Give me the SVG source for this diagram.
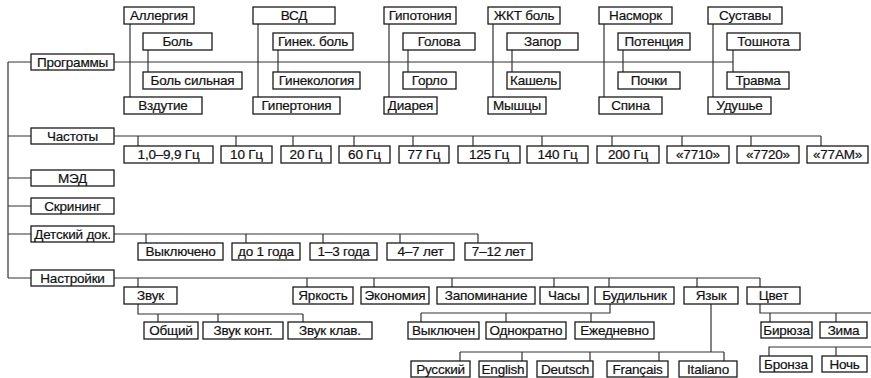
<svg xmlns="http://www.w3.org/2000/svg" width="871" height="378" viewBox="0 0 871 378">
<style>
rect{fill:#fff;stroke:#1a1a1a;stroke-width:1.3}
text{font-family:"Liberation Sans",Arial,sans-serif;font-size:13.5px;letter-spacing:-0.2px;text-anchor:middle;fill:#111;stroke:#111;stroke-width:0.2}
.c path{stroke:#333;stroke-width:1.2;fill:none}
</style>
<rect x="0" y="0" width="871" height="378" style="fill:#fff;stroke:none"/>
<g class="c" id="connectors">
<path d="M8 62V278M8 62H31M8 136H31M8 178H31M8 206H31M8 234H31M8 278H31"/>
<path d="M114 62H733"/>
<path d="M130 24V97M148 50V72M258 24V97M278 50V72M389 24V97M408 50V72M493 24V97M512 50V72M604 24V97M623 50V72M713 24V97M733 50V72"/>
<path d="M114 136H821M138 136V146M236 136V146M293 136V146M354 136V146M413 136V146M473 136V146M542 136V146M612 136V146M682 136V146M751 136V146M821 136V146"/>
<path d="M114 234H478M146 234V243M246 234V243M323 234V243M400 234V243M478 234V243"/>
<path d="M114 278H760M138 278V287M307 278V287M374 278V287M452 278V287M554 278V287M609 278V287M697 278V287M760 278V287"/>
<path d="M138 304V314H303M158 314V322M218 314V322M303 314V322"/>
<path d="M610 304V313H421M421 313V322M506 313V322M591 313V322"/>
<path d="M711 304V352M460 352H724M460 352V361M522 352V361M590 352V361M659 352V361M724 352V361"/>
<path d="M760 304V313H871M770 313V322M836 313V322"/>
<path d="M769 356V347H871M836 347V356"/>
</g>
<g id="n-programmy"><rect x="31" y="54" width="83" height="16"/><text x="72.5" y="66.8">Программы</text></g>
<g id="n-allergiya"><rect x="124" y="7" width="70" height="17"/><text x="159" y="20.3">Аллергия</text></g>
<g id="n-bol"><rect x="143" y="33" width="69" height="17"/><text x="177.5" y="46.3">Боль</text></g>
<g id="n-bol-silnaya"><rect x="143" y="72" width="99" height="17"/><text x="192.5" y="85.3">Боль сильная</text></g>
<g id="n-vzdutie"><rect x="124" y="97" width="78" height="17"/><text x="163" y="110.3">Вздутие</text></g>
<g id="n-vsd"><rect x="253" y="7" width="82" height="17"/><text x="294" y="20.3">ВСД</text></g>
<g id="n-ginek-bol"><rect x="273" y="33" width="80" height="17"/><text x="313" y="46.3">Гинек. боль</text></g>
<g id="n-ginekologiya"><rect x="273" y="72" width="87" height="17"/><text x="316.5" y="85.3">Гинекология</text></g>
<g id="n-gipertoniya"><rect x="253" y="97" width="87" height="17"/><text x="296.5" y="110.3">Гипертония</text></g>
<g id="n-gipotoniya"><rect x="384" y="7" width="72" height="17"/><text x="420" y="20.3">Гипотония</text></g>
<g id="n-golova"><rect x="403" y="33" width="72" height="17"/><text x="439" y="46.3">Голова</text></g>
<g id="n-gorlo"><rect x="403" y="72" width="53" height="17"/><text x="429.5" y="85.3">Горло</text></g>
<g id="n-diareya"><rect x="384" y="97" width="53" height="17"/><text x="410.5" y="110.3">Диарея</text></g>
<g id="n-zhkt"><rect x="488" y="7" width="72" height="17"/><text x="524" y="20.3">ЖКТ боль</text></g>
<g id="n-zapor"><rect x="507" y="33" width="71" height="17"/><text x="542.5" y="46.3">Запор</text></g>
<g id="n-kashel"><rect x="507" y="72" width="53" height="17"/><text x="533.5" y="85.3">Кашель</text></g>
<g id="n-myshtsy"><rect x="488" y="97" width="58" height="17"/><text x="517" y="110.3">Мышцы</text></g>
<g id="n-nasmork"><rect x="599" y="7" width="73" height="17"/><text x="635.5" y="20.3">Насморк</text></g>
<g id="n-potentsiya"><rect x="618" y="33" width="72" height="17"/><text x="654" y="46.3">Потенция</text></g>
<g id="n-pochki"><rect x="618" y="72" width="62" height="17"/><text x="649" y="85.3">Почки</text></g>
<g id="n-spina"><rect x="599" y="97" width="63" height="17"/><text x="630.5" y="110.3">Спина</text></g>
<g id="n-sustavy"><rect x="708" y="7" width="74" height="17"/><text x="745" y="20.3">Суставы</text></g>
<g id="n-toshnota"><rect x="727" y="33" width="73" height="17"/><text x="763.5" y="46.3">Тошнота</text></g>
<g id="n-travma"><rect x="727" y="72" width="62" height="17"/><text x="758" y="85.3">Травма</text></g>
<g id="n-udushye"><rect x="708" y="97" width="63" height="17"/><text x="739.5" y="110.3">Удушье</text></g>
<g id="n-chastoty"><rect x="31" y="128" width="83" height="16"/><text x="72.5" y="140.8">Частоты</text></g>
<g id="n-f1"><rect x="124" y="146" width="89" height="17"/><text x="168.5" y="159.3">1,0–9,9 Гц</text></g>
<g id="n-f10"><rect x="221" y="146" width="51" height="17"/><text x="246.5" y="159.3">10 Гц</text></g>
<g id="n-f20"><rect x="281" y="146" width="50" height="17"/><text x="306" y="159.3">20 Гц</text></g>
<g id="n-f60"><rect x="339" y="146" width="51" height="17"/><text x="364.5" y="159.3">60 Гц</text></g>
<g id="n-f77"><rect x="399" y="146" width="50" height="17"/><text x="424" y="159.3">77 Гц</text></g>
<g id="n-f125"><rect x="458" y="146" width="62" height="17"/><text x="489" y="159.3">125 Гц</text></g>
<g id="n-f140"><rect x="527" y="146" width="61" height="17"/><text x="557.5" y="159.3">140 Гц</text></g>
<g id="n-f200"><rect x="597" y="146" width="62" height="17"/><text x="628" y="159.3">200 Гц</text></g>
<g id="n-f7710"><rect x="667" y="146" width="62" height="17"/><text x="698" y="159.3">«7710»</text></g>
<g id="n-f7720"><rect x="737" y="146" width="62" height="17"/><text x="768" y="159.3">«7720»</text></g>
<g id="n-f77am"><rect x="807" y="146" width="61" height="17"/><text x="837.5" y="159.3">«77AM»</text></g>
<g id="n-med"><rect x="31" y="170" width="83" height="16"/><text x="72.5" y="182.8">МЭД</text></g>
<g id="n-skrining"><rect x="31" y="198" width="83" height="16"/><text x="72.5" y="210.8">Скрининг</text></g>
<g id="n-detskiy"><rect x="31" y="226" width="83" height="16"/><text x="72.5" y="238.8">Детский док.</text></g>
<g id="n-d-off"><rect x="138" y="243" width="85" height="17"/><text x="180.5" y="256.3">Выключено</text></g>
<g id="n-d1"><rect x="232" y="243" width="68" height="17"/><text x="266" y="256.3">до 1 года</text></g>
<g id="n-d13"><rect x="310" y="243" width="67" height="17"/><text x="343.5" y="256.3">1–3 года</text></g>
<g id="n-d47"><rect x="387" y="243" width="67" height="17"/><text x="420.5" y="256.3">4–7 лет</text></g>
<g id="n-d712"><rect x="465" y="243" width="67" height="17"/><text x="498.5" y="256.3">7–12 лет</text></g>
<g id="n-nastroyki"><rect x="31" y="270" width="83" height="16"/><text x="72.5" y="282.8">Настройки</text></g>
<g id="n-zvuk"><rect x="124" y="287" width="53" height="17"/><text x="150.5" y="300.3">Звук</text></g>
<g id="n-yarkost"><rect x="293" y="287" width="60" height="17"/><text x="323" y="300.3">Яркость</text></g>
<g id="n-ekonomiya"><rect x="361" y="287" width="68" height="17"/><text x="395" y="300.3">Экономия</text></g>
<g id="n-zapominanie"><rect x="437" y="287" width="98" height="17"/><text x="486" y="300.3">Запоминание</text></g>
<g id="n-chasy"><rect x="540" y="287" width="48" height="17"/><text x="564" y="300.3">Часы</text></g>
<g id="n-budilnik"><rect x="595" y="287" width="79" height="17"/><text x="634.5" y="300.3">Будильник</text></g>
<g id="n-yazyk"><rect x="684" y="287" width="54" height="17"/><text x="711" y="300.3">Язык</text></g>
<g id="n-tsvet"><rect x="747" y="287" width="53" height="17"/><text x="773.5" y="300.3">Цвет</text></g>
<g id="n-obshchiy"><rect x="144" y="322" width="54" height="17"/><text x="171" y="335.3">Общий</text></g>
<g id="n-zvuk-kont"><rect x="203" y="322" width="80" height="17"/><text x="243" y="335.3">Звук конт.</text></g>
<g id="n-zvuk-klav"><rect x="288" y="322" width="84" height="17"/><text x="330" y="335.3">Звук клав.</text></g>
<g id="n-b-off"><rect x="408" y="322" width="71" height="17"/><text x="443.5" y="335.3">Выключен</text></g>
<g id="n-b-once"><rect x="486" y="322" width="80" height="17"/><text x="526" y="335.3">Однократно</text></g>
<g id="n-b-daily"><rect x="575" y="322" width="79" height="17"/><text x="614.5" y="335.3">Ежедневно</text></g>
<g id="n-ru"><rect x="411" y="361" width="59" height="16"/><text x="440.5" y="373.8">Русский</text></g>
<g id="n-en"><rect x="479" y="361" width="48" height="16"/><text x="503" y="373.8">English</text></g>
<g id="n-de"><rect x="537" y="361" width="56" height="16"/><text x="565" y="373.8">Deutsch</text></g>
<g id="n-fr"><rect x="607" y="361" width="61" height="16"/><text x="637.5" y="373.8">Français</text></g>
<g id="n-it"><rect x="679" y="361" width="58" height="16"/><text x="708" y="373.8">Italiano</text></g>
<g id="n-biryuza"><rect x="761" y="322" width="51" height="16"/><text x="786.5" y="334.8">Бирюза</text></g>
<g id="n-zima"><rect x="820" y="322" width="47" height="16"/><text x="843.5" y="334.8">Зима</text></g>
<g id="n-bronza"><rect x="760" y="356" width="52" height="16"/><text x="786" y="368.8">Бронза</text></g>
<g id="n-noch"><rect x="822" y="356" width="45" height="16"/><text x="844.5" y="368.8">Ночь</text></g>
</svg>
